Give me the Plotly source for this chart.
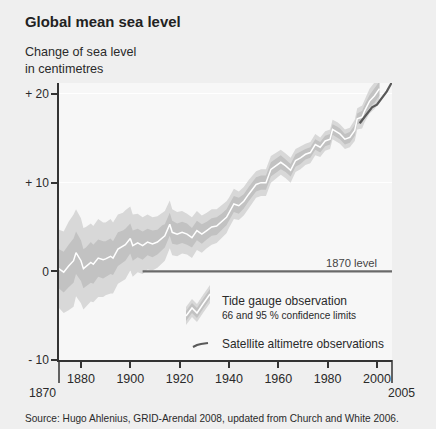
import plotly.graph_objects as go

# ---------------- data ----------------
tide_years = [1871, 1873, 1875, 1877, 1878, 1880, 1881, 1882, 1884, 1885, 1887, 1889,
              1890, 1892, 1893, 1895, 1897, 1898, 1900, 1901, 1903, 1905, 1907, 1909,
              1911, 1913, 1914, 1916, 1917, 1919, 1921, 1923, 1925, 1927, 1929, 1931,
              1933, 1935, 1937, 1939, 1940, 1942, 1944, 1946, 1948, 1950, 1951, 1953,
              1955, 1957, 1959, 1961, 1963, 1965, 1967, 1969, 1971, 1973, 1975, 1977,
              1979, 1981, 1982, 1984, 1985, 1987, 1989, 1991, 1992, 1994, 1995, 1997,
              1999, 2001]
tide_mean = [0.3, -0.1, 0.6, 1.2, 2.1, 1.2, 0.3, 0.5, 1.0, 0.8, 1.5, 1.3,
             1.4, 1.7, 1.5, 2.5, 2.8, 3.0, 3.7, 2.9, 3.2, 2.9, 3.3, 3.1,
             3.3, 3.8, 4.0, 5.3, 4.4, 4.2, 4.4, 4.2, 3.8, 4.6, 4.2, 4.6,
             5.0, 5.1, 5.6, 6.1, 6.6, 7.6, 7.4, 7.9, 8.7, 9.4, 9.8, 10.0,
             10.0, 11.5, 11.9, 12.3, 11.9, 11.4, 12.5, 12.8, 13.2, 13.4, 14.3, 14.0,
             14.7, 14.9, 16.0, 15.7, 15.5, 14.9, 15.1, 15.9, 17.2, 17.4, 18.1, 19.2,
             19.8, 20.6]
# half widths of the 66 % and 95 % confidence limits
ci66 = [2.2, 2.3, 2.4, 2.5, 2.4, 2.3, 2.2, 2.2, 2.3, 2.2, 2.1, 2.1,
        2.0, 2.0, 1.9, 1.9, 1.8, 1.8, 1.7, 1.7, 1.6, 1.6, 1.5, 1.5,
        1.4, 1.4, 1.3, 1.3, 1.3, 1.2, 1.2, 1.2, 1.1, 1.1, 1.1, 1.0,
        1.0, 1.0, 0.9, 0.9, 0.9, 0.9, 0.9, 0.8, 0.8, 0.8, 0.8, 0.8,
        0.8, 0.8, 0.8, 0.8, 0.7, 0.7, 0.7, 0.7, 0.6, 0.6, 0.6, 0.6,
        0.6, 0.6, 0.6, 0.6, 0.6, 0.6, 0.6, 0.6, 0.6, 0.7, 0.7, 0.7,
        0.8, 0.8]
ci95 = [4.4, 4.6, 5.0, 5.2, 4.9, 4.8, 4.6, 4.5, 4.4, 4.3, 4.4, 4.2,
        4.1, 4.2, 4.0, 3.9, 3.8, 3.9, 3.6, 3.5, 3.3, 3.2, 3.1, 3.0,
        2.9, 2.8, 2.8, 2.7, 2.6, 2.5, 2.4, 2.3, 2.3, 2.2, 2.1, 2.0,
        2.0, 1.9, 1.8, 1.8, 1.7, 1.7, 1.6, 1.6, 1.6, 1.5, 1.5, 1.5,
        1.5, 1.5, 1.5, 1.4, 1.4, 1.4, 1.3, 1.3, 1.2, 1.2, 1.2, 1.1,
        1.1, 1.1, 1.1, 1.1, 1.1, 1.1, 1.1, 1.2, 1.2, 1.3, 1.3, 1.4,
        1.5, 1.6]

sat_years = [1993, 1995, 1996, 1998, 2000, 2002, 2004, 2006]
sat_values = [16.7, 17.4, 17.8, 18.5, 18.8, 19.5, 20.3, 21.3]

x_ticks = [1880, 1900, 1920, 1940, 1960, 1980, 2000]
y_ticks = [-10, 0, 10, 20]
y_tick_text = ["- 10", "0", "+ 10", "+ 20"]
level_start = 1905      # where the "1870 level" reference line begins
level_value = 0

# ---------------- layout geometry ----------------
W, H = 436, 429
L, R, T, B = 59, 392, 83, 360
FONT = "Liberation Sans, Arial, sans-serif"
TXT = "#2a2a2a"


def px(x, y):
    return (x - L) / (R - L), (B - y) / (B - T)


def path(points):
    pts = [px(x, y) for x, y in points]
    return "M " + " L ".join(f"{a:.4f},{b:.4f}" for a, b in pts) + " Z"


def opath(points):
    pts = [px(x, y) for x, y in points]
    return "M " + " L ".join(f"{a:.4f},{b:.4f}" for a, b in pts)


up95 = [m + c for m, c in zip(tide_mean, ci95)]
lo95 = [m - c for m, c in zip(tide_mean, ci95)]
up66 = [m + c for m, c in zip(tide_mean, ci66)]
lo66 = [m - c for m, c in zip(tide_mean, ci66)]

fig = go.Figure()
fig.add_trace(go.Scatter(x=tide_years, y=lo95, mode="lines", line=dict(width=0),
                         hoverinfo="skip", showlegend=False))
fig.add_trace(go.Scatter(x=tide_years, y=up95, mode="lines", line=dict(width=0),
                         fill="tonexty", fillcolor="#d8d8d8", hoverinfo="skip",
                         showlegend=False))
fig.add_trace(go.Scatter(x=tide_years, y=lo66, mode="lines", line=dict(width=0),
                         hoverinfo="skip", showlegend=False))
fig.add_trace(go.Scatter(x=tide_years, y=up66, mode="lines", line=dict(width=0),
                         fill="tonexty", fillcolor="#c2c2c2", hoverinfo="skip",
                         showlegend=False))
fig.add_trace(go.Scatter(x=tide_years, y=tide_mean, mode="lines",
                         line=dict(color="white", width=1.5), showlegend=False))
fig.add_trace(go.Scatter(x=sat_years, y=sat_values, mode="lines",
                         line=dict(color="#595959", width=2.2), showlegend=False))

shapes = []
# 1870 level line
shapes.append(dict(type="line", xref="x", yref="y", x0=level_start, x1=2006.1,
                   y0=level_value, y1=level_value,
                   line=dict(color="#6a6a6a", width=2.2)))
# axis end brackets
for xx in (L, R):
    a, b0 = px(xx, B)
    _, b1 = px(xx, 383)
    shapes.append(dict(type="line", xref="paper", yref="paper", x0=a, x1=a,
                       y0=b0, y1=b1, line=dict(color="#333", width=1.5)))

# legend icon: tide gauge band
centre = [(186, 316), (192, 308), (197, 313), (203, 304), (210, 294)]
outer = [(x, y - 9) for x, y in centre] + [(x, y + 9) for x, y in reversed(centre)]
inner = [(x, y - 5) for x, y in centre] + [(x, y + 5) for x, y in reversed(centre)]
shapes.append(dict(type="path", xref="paper", yref="paper", path=path(outer),
                   fillcolor="#d8d8d8", line=dict(width=0)))
shapes.append(dict(type="path", xref="paper", yref="paper", path=path(inner),
                   fillcolor="#c2c2c2", line=dict(width=0)))
shapes.append(dict(type="path", xref="paper", yref="paper", path=opath(centre),
                   line=dict(color="white", width=1.5)))
# legend icon: satellite
shapes.append(dict(type="path", xref="paper", yref="paper",
                   path=opath([(193, 347), (197, 345), (201, 344), (208, 343)]),
                   line=dict(color="#595959", width=2.2)))

ann = []


def text(x, y, s, size, xanchor="left", bold=False, color=TXT):
    a, b = px(x, y)
    ann.append(dict(x=a, y=b, xref="paper", yref="paper", text=f"<b>{s}</b>" if bold else s,
                    showarrow=False, xanchor=xanchor, yanchor="middle",
                    font=dict(family=FONT, size=size, color=color)))


text(23, 22, "Global mean sea level", 14.9, bold=True, color="#222")
text(23, 52, "Change of sea level", 12.6)
text(23, 69, "in centimetres", 12.6)
text(379, 263, "1870 level", 11.2, xanchor="right", color="#444")
text(220, 301, "Tide gauge observation", 12)
text(220, 315, "66 and 95 % confidence limits", 10.1)
text(220, 344, "Satellite altimetre observations", 11.9)
text(58, 393, "1870", 12.2, xanchor="right")
text(386, 393, "2005", 12.2)
text(23, 418, "Source: Hugo Ahlenius, GRID-Arendal 2008, updated from Church and White 2006.", 10.1)

fig.update_layout(
    width=W, height=H,
    margin=dict(l=L, r=W - R, t=T, b=H - B, pad=0),
    paper_bgcolor="#efefef", plot_bgcolor="#f7f7f7",
    shapes=shapes, annotations=ann,
    font=dict(family=FONT, color=TXT),
    showlegend=False,
)
fig.update_xaxes(range=[1871.1, 2006.1], tickvals=x_ticks, ticks="outside", ticklen=6,
                 tickwidth=1.5, tickcolor="#333", showline=True, linecolor="#333",
                 linewidth=1.5, showgrid=False, zeroline=False,
                 tickfont=dict(family=FONT, size=12.5, color=TXT), fixedrange=True)
fig.update_yaxes(range=[-10, 21.24], tickvals=y_ticks, ticktext=y_tick_text,
                 ticks="outside", ticklen=6, tickwidth=1.5, tickcolor="#333",
                 showline=True, linecolor="#333", linewidth=1.5,
                 showgrid=True, gridcolor="white", gridwidth=1.2, zeroline=False,
                 tickfont=dict(family=FONT, size=12, color=TXT), fixedrange=True)

fig.write_html("out.html", config={"displayModeBar": False},
               post_script="document.body.style.margin='0px';document.body.style.overflow='hidden';")
